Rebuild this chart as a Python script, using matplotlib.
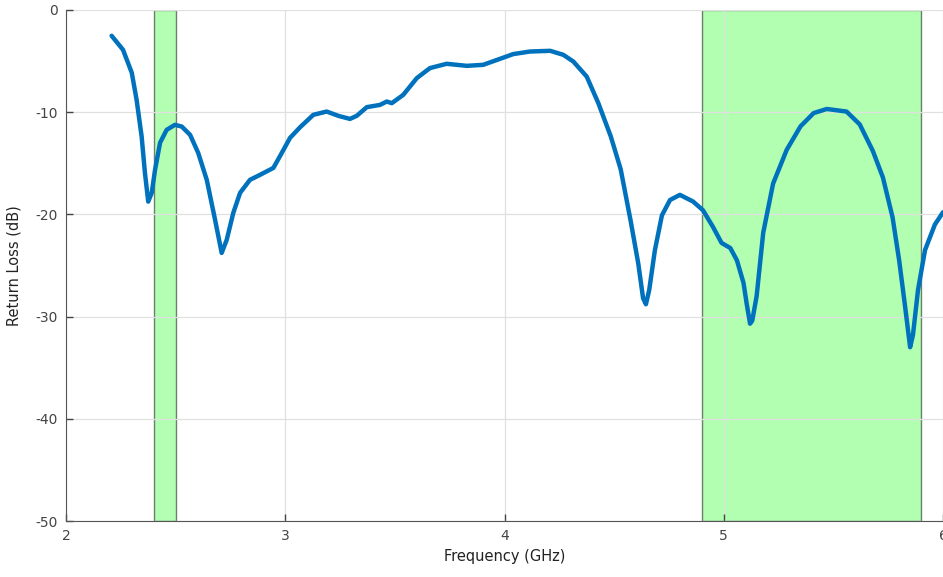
import matplotlib
matplotlib.use("Agg")
import matplotlib.pyplot as plt

plt.rcParams['axes.unicode_minus'] = False
plt.rcParams['font.family'] = ['DejaVu Sans']

# return loss curve (GHz, dB)
freq = [2.208, 2.26, 2.30, 2.322, 2.345, 2.36, 2.375, 2.391, 2.406, 2.429,
        2.459, 2.497, 2.528, 2.566, 2.603, 2.642, 2.68, 2.71, 2.733, 2.763,
        2.794, 2.839, 2.885, 2.946, 2.984, 3.022, 3.067, 3.128, 3.189, 3.242,
        3.295, 3.326, 3.372, 3.432, 3.463, 3.486, 3.538, 3.60, 3.66, 3.736,
        3.828, 3.903, 3.98, 4.04, 4.116, 4.208, 4.268, 4.314, 4.375, 4.428,
        4.485, 4.53, 4.575, 4.61, 4.632, 4.645,
        4.66, 4.686, 4.718, 4.755, 4.80, 4.86, 4.905, 4.95, 4.99,
        5.03, 5.06, 5.09, 5.105, 5.12, 5.13, 5.15, 5.18, 5.225,
        5.287, 5.35, 5.41, 5.47, 5.56, 5.62, 5.68, 5.726, 5.77,
        5.80, 5.827, 5.85, 5.863, 5.886, 5.918, 5.963, 6.0]
loss = [-2.54, -3.91, -6.16, -8.81, -12.4, -15.95, -18.76, -17.9, -15.66, -13.0,
        -11.74, -11.25, -11.42, -12.23, -14.0, -16.63, -20.55, -23.78, -22.5, -19.86,
        -17.9, -16.63, -16.14, -15.46, -14.0, -12.52, -11.5, -10.27, -9.95, -10.37,
        -10.67, -10.37, -9.52, -9.3, -8.97, -9.13, -8.32, -6.68, -5.70, -5.28,
        -5.48, -5.38, -4.79, -4.33, -4.08, -4.01, -4.40, -5.06, -6.53, -9.13,
        -12.4, -15.6, -20.6, -24.8, -28.2, -28.8,
        -27.4, -23.5, -20.1, -18.6, -18.1, -18.75, -19.6, -21.2, -22.8,
        -23.3, -24.5, -26.7, -28.8, -30.7, -30.4, -28.0, -21.8, -17.0,
        -13.7, -11.4, -10.1, -9.7, -9.95, -11.2, -13.8, -16.4, -20.3,
        -24.5, -29.0, -33.0, -31.8, -27.4, -23.5, -21.0, -19.8]

# highlighted bands (GHz)
bands = [(2.4, 2.5), (4.9, 5.9)]

fig = plt.figure(figsize=(9.43, 5.77), dpi=100)
ax = fig.add_axes([0.07, 0.097, 0.93, 0.886])

for lo, hi in bands:
    ax.axvspan(lo, hi, facecolor=(0.0, 1.0, 0.0, 0.3), edgecolor=(0, 0, 0, 0.5),
               linewidth=1.0, zorder=1)

ax.plot(freq, loss, color='#0072BD', linewidth=3.2, solid_joinstyle='round',
        solid_capstyle='round', zorder=3)

ax.set_xlim(2, 6)
ax.set_ylim(-50, 0)
ax.set_xticks([2, 3, 4, 5, 6])
ax.set_yticks([-50, -40, -30, -20, -10, 0])
ax.grid(True, color='#e0e0e0', linewidth=0.9)
for line in ax.get_xgridlines() + ax.get_ygridlines():
    line.set_zorder(2)

ax.spines['top'].set_visible(False)
ax.spines['right'].set_visible(False)
ax.spines['left'].set_color('#555555')
ax.spines['bottom'].set_color('#555555')
ax.tick_params(direction='in', length=5, width=1, colors='#444444',
               labelsize=10, pad=6)

ax.set_xlabel('Frequency (GHz)', fontsize=10.5, color='#222222', labelpad=4)
ax.set_ylabel('Return Loss (dB)', fontsize=10.5, color='#222222', labelpad=10)

fig.savefig('out.png', dpi=100)
